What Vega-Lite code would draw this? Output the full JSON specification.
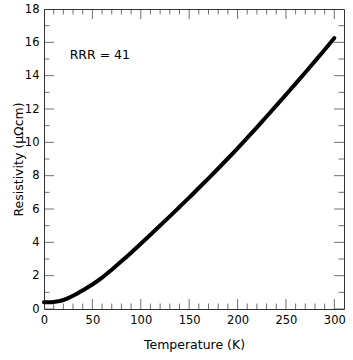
{
  "$schema": "https://vega.github.io/schema/vega-lite/v6.json",
  "width": 300,
  "height": 300,
  "autosize": {"type": "none"},
  "padding": {"left": 44, "top": 9, "right": 9, "bottom": 51},
  "background": "white",
  "config": {
    "view": {"stroke": null},
    "font": "DejaVu Sans",
    "axis": {
      "labelFont": "DejaVu Sans",
      "titleFont": "DejaVu Sans",
      "labelColor": "#000000",
      "titleColor": "#000000",
      "titleFontWeight": "normal",
      "domainColor": "#333333",
      "domainWidth": 1,
      "grid": false
    }
  },
  "datasets": {
    "curve": [
      {"T": 0, "rho": 0.40}, {"T": 5, "rho": 0.40}, {"T": 10, "rho": 0.42},
      {"T": 15, "rho": 0.46}, {"T": 20, "rho": 0.54}, {"T": 25, "rho": 0.65},
      {"T": 30, "rho": 0.79}, {"T": 35, "rho": 0.95}, {"T": 40, "rho": 1.12},
      {"T": 45, "rho": 1.29}, {"T": 50, "rho": 1.47}, {"T": 60, "rho": 1.88},
      {"T": 70, "rho": 2.36}, {"T": 80, "rho": 2.86}, {"T": 90, "rho": 3.38},
      {"T": 100, "rho": 3.92}, {"T": 110, "rho": 4.46}, {"T": 120, "rho": 5.01},
      {"T": 130, "rho": 5.56}, {"T": 140, "rho": 6.12}, {"T": 150, "rho": 6.68},
      {"T": 160, "rho": 7.26}, {"T": 170, "rho": 7.84}, {"T": 180, "rho": 8.43},
      {"T": 190, "rho": 9.03}, {"T": 200, "rho": 9.64}, {"T": 210, "rho": 10.27},
      {"T": 220, "rho": 10.90}, {"T": 230, "rho": 11.55}, {"T": 240, "rho": 12.20},
      {"T": 250, "rho": 12.86}, {"T": 260, "rho": 13.52}, {"T": 270, "rho": 14.19},
      {"T": 280, "rho": 14.87}, {"T": 290, "rho": 15.56}, {"T": 300, "rho": 16.26}
    ],
    "xmajor": [{"v": 0}, {"v": 50}, {"v": 100}, {"v": 150}, {"v": 200}, {"v": 250}, {"v": 300}],
    "xminor": [{"v": 10}, {"v": 20}, {"v": 30}, {"v": 40}, {"v": 60}, {"v": 70}, {"v": 80}, {"v": 90},
               {"v": 110}, {"v": 120}, {"v": 130}, {"v": 140}, {"v": 160}, {"v": 170}, {"v": 180}, {"v": 190},
               {"v": 210}, {"v": 220}, {"v": 230}, {"v": 240}, {"v": 260}, {"v": 270}, {"v": 280}, {"v": 290}],
    "ymajor": [{"v": 0}, {"v": 2}, {"v": 4}, {"v": 6}, {"v": 8}, {"v": 10}, {"v": 12}, {"v": 14}, {"v": 16}, {"v": 18}],
    "yminor": [{"v": 1}, {"v": 3}, {"v": 5}, {"v": 7}, {"v": 9}, {"v": 11}, {"v": 13}, {"v": 15}, {"v": 17}]
  },
  "layer": [
    {
      "data": {"name": "curve"},
      "mark": {"type": "line", "strokeOpacity": 0},
      "encoding": {
        "x": {
          "field": "T", "type": "quantitative",
          "scale": {"domain": [0, 310], "nice": false, "zero": false},
          "axis": {"orient": "top", "title": null, "labels": false, "ticks": false, "domain": true}
        },
        "y": {
          "field": "rho", "type": "quantitative",
          "scale": {"domain": [0, 18], "nice": false, "zero": false},
          "axis": {"orient": "right", "title": null, "labels": false, "ticks": false, "domain": true}
        }
      }
    },
    {
      "data": {"name": "curve"},
      "mark": {"type": "line", "color": "#000000", "strokeWidth": 4, "strokeCap": "round", "strokeJoin": "round", "interpolate": "monotone"},
      "encoding": {
        "x": {
          "field": "T", "type": "quantitative",
          "axis": {
            "orient": "bottom",
            "title": "Temperature (K)",
            "titleFontSize": 12.5,
            "titleBaseline": "alphabetic",
            "titleX": 150,
            "titleY": 39,
            "values": [0, 50, 100, 150, 200, 250, 300],
            "labelFontSize": 11.5,
            "labelFlush": false,
            "labelOverlap": false,
            "ticks": false,
            "labelPadding": 5,
            "domain": true
          }
        },
        "y": {
          "field": "rho", "type": "quantitative",
          "axis": {
            "orient": "left",
            "title": "Resistivity (µΩcm)",
            "titleFontSize": 12.5,
            "titleBaseline": "alphabetic",
            "titleAngle": -90,
            "titleX": -22,
            "titleY": 150,
            "values": [0, 2, 4, 6, 8, 10, 12, 14, 16, 18],
            "labelFontSize": 11.5,
            "labelFlush": false,
            "labelOverlap": false,
            "ticks": false,
            "labelPadding": 5,
            "domain": true
          }
        }
      }
    },
    {
      "data": {"name": "xmajor"},
      "mark": {"type": "tick", "orient": "vertical", "size": 20, "thickness": 1, "color": "#333333", "clip": true},
      "encoding": {
        "x": {"field": "v", "type": "quantitative", "axis": null},
        "y": {"datum": 0, "type": "quantitative", "axis": null}
      }
    },
    {
      "data": {"name": "xmajor"},
      "mark": {"type": "tick", "orient": "vertical", "size": 20, "thickness": 1, "color": "#333333", "clip": true},
      "encoding": {
        "x": {"field": "v", "type": "quantitative", "axis": null},
        "y": {"datum": 18, "type": "quantitative", "axis": null}
      }
    },
    {
      "data": {"name": "xminor"},
      "mark": {"type": "tick", "orient": "vertical", "size": 11, "thickness": 1, "color": "#333333", "clip": true},
      "encoding": {
        "x": {"field": "v", "type": "quantitative", "axis": null},
        "y": {"datum": 0, "type": "quantitative", "axis": null}
      }
    },
    {
      "data": {"name": "xminor"},
      "mark": {"type": "tick", "orient": "vertical", "size": 11, "thickness": 1, "color": "#333333", "clip": true},
      "encoding": {
        "x": {"field": "v", "type": "quantitative", "axis": null},
        "y": {"datum": 18, "type": "quantitative", "axis": null}
      }
    },
    {
      "data": {"name": "ymajor"},
      "mark": {"type": "tick", "orient": "horizontal", "size": 20, "thickness": 1, "color": "#333333", "clip": true},
      "encoding": {
        "y": {"field": "v", "type": "quantitative", "axis": null},
        "x": {"datum": 0, "type": "quantitative", "axis": null}
      }
    },
    {
      "data": {"name": "ymajor"},
      "mark": {"type": "tick", "orient": "horizontal", "size": 20, "thickness": 1, "color": "#333333", "clip": true},
      "encoding": {
        "y": {"field": "v", "type": "quantitative", "axis": null},
        "x": {"datum": 310, "type": "quantitative", "axis": null}
      }
    },
    {
      "data": {"name": "yminor"},
      "mark": {"type": "tick", "orient": "horizontal", "size": 11, "thickness": 1, "color": "#333333", "clip": true},
      "encoding": {
        "y": {"field": "v", "type": "quantitative", "axis": null},
        "x": {"datum": 0, "type": "quantitative", "axis": null}
      }
    },
    {
      "data": {"name": "yminor"},
      "mark": {"type": "tick", "orient": "horizontal", "size": 11, "thickness": 1, "color": "#333333", "clip": true},
      "encoding": {
        "y": {"field": "v", "type": "quantitative", "axis": null},
        "x": {"datum": 310, "type": "quantitative", "axis": null}
      }
    },
    {
      "data": {"values": [{"T": 26.5, "rho": 15.0, "label": "RRR = 41"}]},
      "mark": {"type": "text", "align": "left", "baseline": "alphabetic", "fontSize": 12.5, "font": "DejaVu Sans", "color": "#000000"},
      "encoding": {
        "x": {"field": "T", "type": "quantitative", "axis": null},
        "y": {"field": "rho", "type": "quantitative", "axis": null},
        "text": {"field": "label"}
      }
    }
  ],
  "resolve": {"axis": {"x": "independent", "y": "independent"}}
}
